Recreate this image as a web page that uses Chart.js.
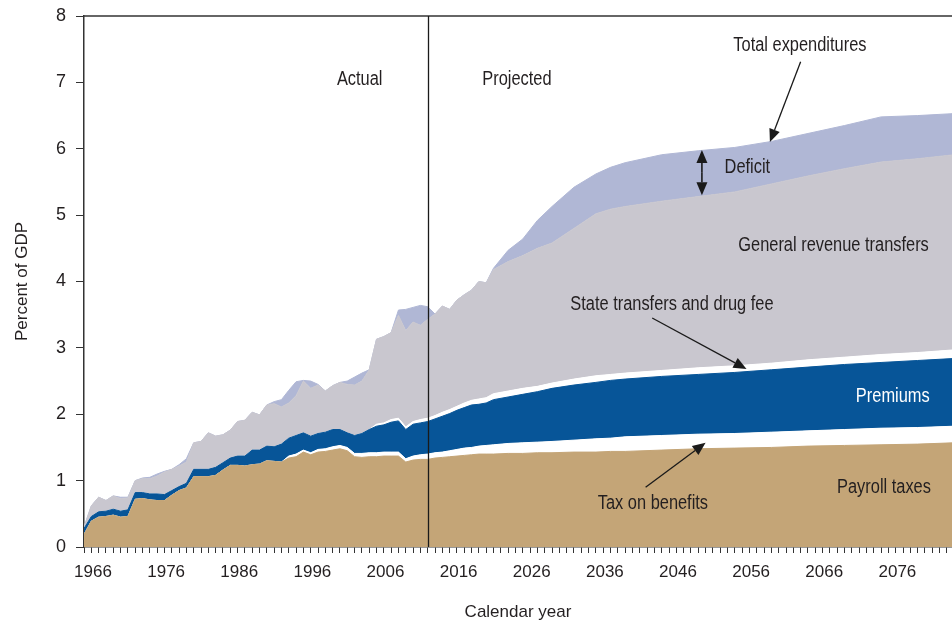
<!DOCTYPE html>
<html>
<head>
<meta charset="utf-8">
<title>Medicare income and expenditures as a percent of GDP</title>
<script src="https://cdn.jsdelivr.net/npm/chart.js@4.4.1/dist/chart.umd.min.js"></script>
<style>
  html, body { margin: 0; padding: 0; background: #fff; }
  #wrap { width: 952px; height: 625px; }
</style>
</head>
<body>
<div id="wrap"><canvas id="chart" width="952" height="625"></canvas></div>
<script>
// Medicare income by source and total expenditures, percent of GDP

// ===== Data =====
const years = [
  1966, 1967, 1968, 1969, 1970, 1971, 1972, 1973, 1974, 1975,
  1976, 1977, 1978, 1979, 1980, 1981, 1982, 1983, 1984, 1985,
  1986, 1987, 1988, 1989, 1990, 1991, 1992, 1993, 1994, 1995,
  1996, 1997, 1998, 1999, 2000, 2001, 2002, 2003, 2004, 2005,
  2006, 2007, 2008, 2009, 2010, 2011, 2012, 2013, 2014, 2015,
  2016, 2017, 2018, 2019, 2020, 2021, 2022,
  2024, 2026, 2028, 2030, 2033, 2036, 2038, 2040, 2045, 2050,
  2055, 2060, 2065, 2070, 2075, 2080, 2085
];

const payrollTaxes = [
  0.19, 0.39, 0.45, 0.46, 0.48, 0.45, 0.46, 0.72, 0.73, 0.71,
  0.70, 0.70, 0.78, 0.85, 0.89, 1.06, 1.06, 1.06, 1.08, 1.16,
  1.23, 1.23, 1.22, 1.24, 1.25, 1.30, 1.29, 1.28, 1.34, 1.36,
  1.43, 1.39, 1.43, 1.44, 1.46, 1.48, 1.45, 1.36, 1.35, 1.36,
  1.36, 1.37, 1.37, 1.37, 1.28, 1.31, 1.32, 1.32, 1.34, 1.35,
  1.36, 1.37, 1.38, 1.39, 1.40, 1.40, 1.40,
  1.41, 1.41, 1.42, 1.42, 1.43, 1.43, 1.44, 1.44, 1.46, 1.48,
  1.49, 1.50, 1.52, 1.53, 1.54, 1.55, 1.57
];

const taxOnBenefits = [
  0, 0, 0, 0, 0, 0, 0, 0, 0, 0,
  0, 0, 0, 0, 0, 0, 0, 0, 0, 0,
  0, 0, 0, 0, 0, 0, 0, 0, 0.03, 0.04,
  0.03, 0.03, 0.04, 0.04, 0.05, 0.05, 0.05, 0.05, 0.06, 0.06,
  0.06, 0.06, 0.06, 0.06, 0.05, 0.06, 0.07, 0.08, 0.08, 0.08,
  0.09, 0.10, 0.11, 0.11, 0.12, 0.13, 0.14,
  0.15, 0.16, 0.16, 0.17, 0.18, 0.20, 0.20, 0.22, 0.22, 0.22,
  0.22, 0.23, 0.23, 0.24, 0.25, 0.25, 0.25
];

const premiums = [
  0.09, 0.07, 0.08, 0.08, 0.09, 0.09, 0.10, 0.10, 0.09, 0.09,
  0.10, 0.09, 0.07, 0.06, 0.07, 0.11, 0.11, 0.11, 0.12, 0.11,
  0.11, 0.14, 0.15, 0.22, 0.21, 0.22, 0.22, 0.27, 0.27, 0.28,
  0.26, 0.25, 0.24, 0.25, 0.26, 0.24, 0.22, 0.27, 0.30, 0.35,
  0.40, 0.41, 0.45, 0.47, 0.44, 0.48, 0.48, 0.49, 0.51, 0.54,
  0.56, 0.59, 0.61, 0.64, 0.63, 0.64, 0.68,
  0.70, 0.73, 0.76, 0.80, 0.83, 0.85, 0.87, 0.87, 0.89, 0.90,
  0.92, 0.94, 0.96, 0.98, 0.99, 1.01, 1.02
];

const stateTransfers = [
  0, 0, 0, 0, 0, 0, 0, 0, 0, 0,
  0, 0, 0, 0, 0, 0, 0, 0, 0, 0,
  0, 0, 0, 0, 0, 0, 0, 0, 0, 0,
  0, 0, 0, 0, 0, 0, 0, 0, 0, 0,
  0.03, 0.03, 0.04, 0.04, 0.04, 0.04, 0.05, 0.05, 0.05, 0.06,
  0.06, 0.06, 0.07, 0.07, 0.08, 0.08, 0.09,
  0.09, 0.09, 0.08, 0.08, 0.09, 0.10, 0.09, 0.09, 0.09, 0.10,
  0.10, 0.10, 0.11, 0.11, 0.12, 0.12, 0.13
];

const generalRevenue = [
  0.02, 0.16, 0.22, 0.16, 0.20, 0.19, 0.18, 0.18, 0.21, 0.23,
  0.27, 0.34, 0.32, 0.31, 0.32, 0.40, 0.42, 0.55, 0.47, 0.42,
  0.42, 0.52, 0.54, 0.57, 0.53, 0.62, 0.65, 0.56, 0.53, 0.60,
  0.78, 0.72, 0.73, 0.62, 0.66, 0.71, 0.73, 0.76, 0.79, 0.90,
  1.28, 1.30, 1.31, 1.55, 1.45, 1.50, 1.42, 1.49, 1.53, 1.60,
  1.51, 1.60, 1.63, 1.66, 1.77, 1.73, 1.87,
  1.95, 2.00, 2.08, 2.11, 2.27, 2.44, 2.49, 2.51, 2.55, 2.58,
  2.62, 2.70, 2.77, 2.84, 2.90, 2.92, 2.94
];

const deficit = [
  0, 0, 0, 0, 0, 0.02, 0.01, 0, 0.01, 0.02,
  0.03, 0.01, 0, 0.02, 0.05, 0, 0, 0, 0, 0,
  0, 0, 0, 0, 0, 0, 0.03, 0.11, 0.19, 0.21,
  0.01, 0.11, 0.01, 0, 0, 0, 0.05, 0.12, 0.12, 0,
  0, 0, 0, 0.08, 0.32, 0.22, 0.30, 0.19, 0, 0,
  0, 0, 0, 0, 0, 0, 0.02,
  0.17, 0.25, 0.42, 0.55, 0.62, 0.60, 0.63, 0.66, 0.70, 0.69,
  0.67, 0.64, 0.64, 0.65, 0.68, 0.65, 0.62
];

const yTicks = [0, 1, 2, 3, 4, 5, 6, 7, 8];
const xLabelYears = [1966, 1976, 1986, 1996, 2006, 2016, 2026, 2036, 2046, 2056, 2066, 2076];
const projectionStart = 2013;

// ===== Styling =====
const fontFamily = '"Liberation Sans", Arial, sans-serif';
const textColor = "#231f20";
const axisColor = "#333333";

const layers = [
  { label: "Payroll taxes", values: payrollTaxes, color: "#c4a577" },
  { label: "Tax on benefits", values: taxOnBenefits, color: "#ffffff" },
  { label: "Premiums", values: premiums, color: "#075598" },
  { label: "State transfers and drug fee", values: stateTransfers, color: "#ffffff" },
  { label: "General revenue transfers", values: generalRevenue, color: "#c9c7cf" },
  { label: "Deficit", values: deficit, color: "#b0b7d5" },
];

// annotation text placed in data units (year, percent of GDP)
const notes = [
  { text: "Actual", year: 2003.7, value: 7.05 },
  { text: "Projected", year: 2025.2, value: 7.05 },
  { text: "Total expenditures", year: 2063.9, value: 7.55 },
  { text: "Deficit", year: 2053.6, value: 5.72, align: "left" },
  { text: "General revenue transfers", year: 2068.5, value: 4.55 },
  { text: "State transfers and drug fee", year: 2046.4, value: 3.65 },
  { text: "Premiums", year: 2076.6, value: 2.27, color: "#ffffff" },
  { text: "Payroll taxes", year: 2075.4, value: 0.90 },
  { text: "Tax on benefits", year: 2043.8, value: 0.65 },
];

const pointers = [
  { from: [2064.0, 7.31], to: [2059.8, 6.10] },
  { from: [2043.7, 3.45], to: [2056.6, 2.68] },
  { from: [2042.8, 0.90], to: [2051.0, 1.57] },
];

const deficitSpan = { year: 2050.5, low: 5.30, high: 5.98 };

// ===== Helpers =====
function toPoints(values) {
  return years.map((yr, i) => ({ x: yr, y: values[i] }));
}

// narrow text: the original uses a condensed face, squeeze a regular one
function narrowText(ctx, text, px, py, align) {
  ctx.save();
  ctx.translate(px, py);
  ctx.scale(0.82, 1);
  ctx.textAlign = align;
  ctx.fillText(text, 0, 0);
  ctx.restore();
}

function drawArrow(ctx, x1, y1, x2, y2, len, half) {
  const ang = Math.atan2(y2 - y1, x2 - x1);
  const bx = x2 - len * Math.cos(ang);
  const by = y2 - len * Math.sin(ang);
  ctx.beginPath();
  ctx.moveTo(x1, y1);
  ctx.lineTo(bx, by);
  ctx.stroke();
  ctx.beginPath();
  ctx.moveTo(x2, y2);
  ctx.lineTo(bx + half * Math.sin(ang), by - half * Math.cos(ang));
  ctx.lineTo(bx - half * Math.sin(ang), by + half * Math.cos(ang));
  ctx.closePath();
  ctx.fill();
}

const annotationPlugin = {
  id: "annotations",
  afterDatasetsDraw(chart) {
    const { ctx, chartArea, scales: { x, y } } = chart;
    ctx.save();

    // frame line along the top
    ctx.strokeStyle = axisColor;
    ctx.lineWidth = 1.5;
    ctx.beginPath();
    ctx.moveTo(chartArea.left, chartArea.top);
    ctx.lineTo(chartArea.right, chartArea.top);
    ctx.stroke();

    // actual / projected divider
    const dx = Math.round(x.getPixelForValue(projectionStart)) + 0.5;
    ctx.strokeStyle = "#1a1a1a";
    ctx.lineWidth = 1.3;
    ctx.beginPath();
    ctx.moveTo(dx, chartArea.top);
    ctx.lineTo(dx, chartArea.bottom);
    ctx.stroke();

    // text labels
    ctx.font = "20px " + fontFamily;
    ctx.textBaseline = "middle";
    notes.forEach((n) => {
      ctx.fillStyle = n.color || textColor;
      narrowText(ctx, n.text, x.getPixelForValue(n.year), y.getPixelForValue(n.value), n.align || "center");
    });

    // pointer arrows
    ctx.strokeStyle = "#1a1a1a";
    ctx.fillStyle = "#1a1a1a";
    ctx.lineWidth = 1.3;
    pointers.forEach((p) => {
      drawArrow(ctx,
        x.getPixelForValue(p.from[0]), y.getPixelForValue(p.from[1]),
        x.getPixelForValue(p.to[0]), y.getPixelForValue(p.to[1]), 13, 5.5);
    });

    // double-headed deficit marker
    const sx = x.getPixelForValue(deficitSpan.year);
    const yLow = y.getPixelForValue(deficitSpan.low);
    const yHigh = y.getPixelForValue(deficitSpan.high);
    const yMid = (yLow + yHigh) / 2;
    ctx.lineWidth = 1.6;
    drawArrow(ctx, sx, yMid, sx, yHigh, 13, 5.5);
    drawArrow(ctx, sx, yMid, sx, yLow, 13, 5.5);

    ctx.restore();
  }
};

// ===== Chart =====
Chart.defaults.font.family = fontFamily;
Chart.defaults.color = textColor;

const minorTicks = [];
for (let yr = 1966; yr <= 2084; yr++) minorTicks.push(yr);

new Chart(document.getElementById("chart"), {
  type: "line",
  data: {
    datasets: layers.map((l, i) => ({
      label: l.label,
      data: toPoints(l.values),
      backgroundColor: l.color,
      borderColor: l.color,
      borderWidth: 1,
      fill: i === 0 ? "origin" : "-1",
      pointRadius: 0,
      tension: 0,
    })),
  },
  options: {
    responsive: false,
    animation: false,
    devicePixelRatio: 1,
    layout: { padding: { top: 16, right: 0, bottom: 0, left: 0 } },
    plugins: {
      legend: { display: false },
      tooltip: { enabled: false },
    },
    scales: {
      x: {
        type: "linear",
        min: 1966,
        max: 2084.7,
        z: 1,
        afterBuildTicks: (scale) => {
          scale.ticks = minorTicks.map((v) => ({ value: v }));
        },
        afterFit: (scale) => {
          scale.height = 78;
          scale.paddingLeft = 0;
          scale.paddingRight = 0;
        },
        ticks: {
          autoSkip: false,
          maxRotation: 0,
          minRotation: 0,
          labelOffset: 9,
          padding: 9,
          color: textColor,
          font: { size: 17 },
          callback: (v) => (xLabelYears.includes(v) ? String(v) : ""),
        },
        grid: { drawOnChartArea: false, tickLength: 6, color: axisColor, lineWidth: 1 },
        border: { display: true, color: axisColor, width: 1.5 },
        title: {
          display: true,
          text: "Calendar year",
          color: textColor,
          font: { size: 17 },
          padding: { top: 0, bottom: 2 },
        },
      },
      y: {
        stacked: true,
        min: 0,
        max: 8,
        z: 1,
        afterBuildTicks: (scale) => {
          scale.ticks = yTicks.map((v) => ({ value: v }));
        },
        afterFit: (scale) => {
          scale.width = 84;
          scale.paddingTop = 0;
          scale.paddingBottom = 0;
        },
        ticks: {
          padding: 10,
          color: textColor,
          font: { size: 18 },
        },
        grid: { drawOnChartArea: false, tickLength: 8, color: axisColor, lineWidth: 1 },
        border: { display: true, color: axisColor, width: 1.5 },
        title: {
          display: true,
          text: "Percent of GDP",
          color: textColor,
          font: { size: 17 },
          padding: { top: 12, bottom: 0 },
        },
      },
    },
  },
  plugins: [annotationPlugin],
});
</script>
</body>
</html>
